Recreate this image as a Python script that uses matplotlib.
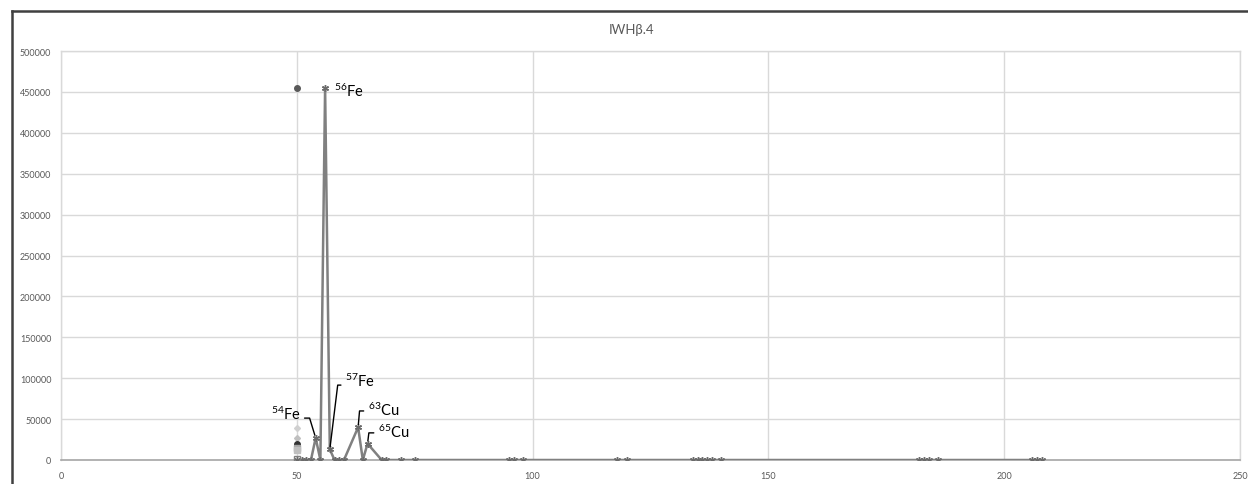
import matplotlib
matplotlib.use("Agg")
import matplotlib.pyplot as plt
from matplotlib.lines import Line2D

# ---- data ----
mass = [50, 51, 52, 53, 54, 55, 56, 57, 58, 59, 60, 63, 64, 65, 68, 69, 72, 75,
        95, 96, 98, 118, 120, 134, 135, 136, 137, 138, 140,
        182, 183, 184, 186, 206, 207, 208]
counts = [0, 0, 0, 0, 27000, 0, 455000, 13000, 0, 0, 0, 40000, 0, 20000, 0, 0, 0, 0,
          0, 0, 0, 0, 0, 0, 0, 0, 0, 0, 0,
          0, 0, 0, 0, 0, 0, 0]

other_x = [50, 50, 50, 50, 50, 50, 50]
other_y = [455000, 39000, 27000, 19000, 15000, 12000, 1500]

labels = ["54", "56", "57", "63", "65"]
label_elems = ["Fe", "Fe", "Fe", "Cu", "Cu"]
label_mass = [54, 56, 57, 63, 65]

title = "IWH\u03b2.4"
xticks = [0, 50, 100, 150, 200, 250]
yticks = [0, 50000, 100000, 150000, 200000, 250000, 300000, 350000, 400000, 450000, 500000]

plt.rcParams['font.family'] = ['Lato', 'DejaVu Sans']

fig = plt.figure(figsize=(12.48, 4.85), dpi=100)
ax = fig.add_axes([61/1248, 1-461/485, (1240-61)/1248, (461-52)/485])

grid_c = "#d9d9d9"
ax.set_xlim(0, 250)
ax.set_ylim(0, 500000)
ax.set_xticks(xticks)
ax.set_yticks(yticks)
ax.set_xticklabels([str(v) for v in xticks])
ax.set_yticklabels([str(v) for v in yticks])
ax.grid(True, color=grid_c, linewidth=1.0)
ax.set_axisbelow(True)
for s in ["top", "right", "left"]:
    ax.spines[s].set_color(grid_c)
    ax.spines[s].set_linewidth(1.0)
ax.spines["bottom"].set_color("#a6a6a6")
ax.spines["bottom"].set_linewidth(1.2)
ax.tick_params(axis="both", length=0, labelsize=6.5, labelcolor="#595959")
ax.tick_params(axis="y", pad=7)
ax.tick_params(axis="x", pad=8)

# main series
ax.plot(mass, counts, color="#808080", linewidth=1.8, marker=(6, 2, 0),
        markersize=5, markeredgecolor="#6b6b6b", markeredgewidth=1.0, zorder=3)

# other series at x=50
other_styles = [
    dict(marker="o", color="#595959", ms=4),
    dict(marker="D", color="#d0d0d0", ms=3),
    dict(marker="D", color="#c0c0c0", ms=3),
    dict(marker="o", color="#333333", ms=4),
    dict(marker="s", color="#a6a6a6", ms=4),
    dict(marker="s", color="#bfbfbf", ms=4),
    dict(marker="s", color="#7f7f7f", ms=5, mfc="none"),
]
for xv, yv, st in zip(other_x, other_y, other_styles):
    ax.plot([xv], [yv], linestyle="none", marker=st["marker"], markersize=st["ms"],
            color=st["color"], markerfacecolor=st.get("mfc", st["color"]), zorder=4)

# annotations
idx = {m: counts[mass.index(m)] for m in label_mass}
ann_cfg = {
    54: dict(off=(-11, 18), ha="right", relpos=(1.0, 0.2), angB=107),
    56: dict(off=(6.5, -1.5), ha="left", relpos=None, angB=None),
    57: dict(off=(11, 50), ha="left", relpos=(0.0, 0.2), angB=83),
    63: dict(off=(7, 13), ha="left", relpos=(0.0, 0.4), angB=85),
    65: dict(off=(7.5, 9), ha="left", relpos=(0.0, 0.4), angB=83),
}
for lab, el, m in zip(labels, label_elems, label_mass):
    cfg = ann_cfg[m]
    txt = r"$\mathregular{^{%s}}$%s" % (lab, el)
    kw = {}
    if cfg["angB"] is not None:
        kw["arrowprops"] = dict(arrowstyle="-", color="#000000", linewidth=1.0,
                                connectionstyle="angle,angleA=0,angleB=%d,rad=0" % cfg["angB"],
                                relpos=cfg["relpos"], shrinkA=1, shrinkB=2)
    ax.annotate(txt, xy=(m, idx[m]), xytext=cfg["off"], textcoords="offset points",
                ha=cfg["ha"], va="center", fontsize=10.5, color="#000000", zorder=5, **kw)

fig.text(632/1248, 1-30/485, title, ha="center", va="center", fontsize=9.5, color="#595959")

# outer chart frame (top and left edges visible)
fig.add_artist(Line2D([12/1248, 12/1248], [0, 1-12/485], transform=fig.transFigure,
                      color="#404040", linewidth=1.8))
fig.add_artist(Line2D([12/1248, 1], [1-12/485, 1-12/485], transform=fig.transFigure,
                      color="#404040", linewidth=1.8))

fig.savefig("out.png", dpi=100)
